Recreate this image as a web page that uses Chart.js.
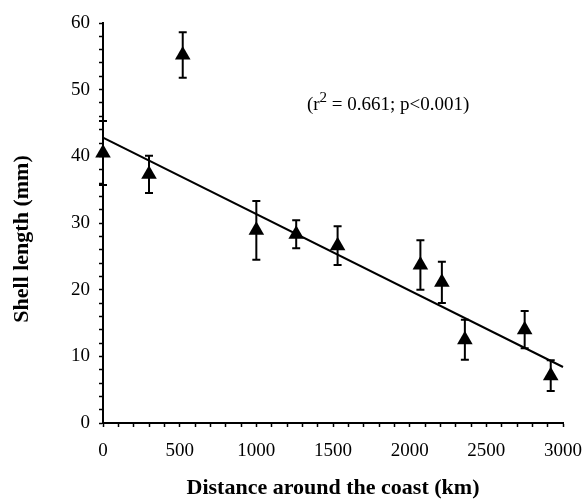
<!DOCTYPE html>
<html>
<head>
<meta charset="utf-8">
<script src="https://cdn.jsdelivr.net/npm/chart.js@4.4.1/dist/chart.umd.min.js"></script>
<style>
  html, body { margin: 0; padding: 0; background: #fff; }
</style>
</head>
<body>
<canvas id="shellChart" width="584" height="502"></canvas>
<script>
// site data (distance in km, mean shell length in mm, +/- error)
const distance = [0, 300, 520, 1000, 1260, 1530, 2070, 2210, 2360, 2750, 2920];
const shellLength = [40.5, 37.3, 55.2, 28.9, 28.3, 26.6, 23.7, 21.1, 12.5, 14.0, 7.1];
const shellErr = [4.8, 2.8, 3.4, 4.4, 2.1, 2.9, 3.7, 3.1, 3.0, 2.8, 2.3];

// fitted line end points
const fitX = [0, 3000];
const fitY = [42.8, 8.4];

const statText = ['(r', '2', ' = 0.661; p<0.001)'];
const xTitle = 'Distance around the coast (km)';
const yTitle = 'Shell length (mm)';

const serif = "'Liberation Serif', 'Times New Roman', serif";

// vertical error bars with caps, drawn through the scales
const errorBars = {
  id: 'errorBars',
  beforeDatasetsDraw(chart) {
    const { ctx, scales: { x, y } } = chart;
    ctx.save();
    ctx.strokeStyle = '#000';
    ctx.lineWidth = 2;
    distance.forEach((d, i) => {
      const px = x.getPixelForValue(d);
      const top = y.getPixelForValue(shellLength[i] + shellErr[i]);
      const bot = y.getPixelForValue(shellLength[i] - shellErr[i]);
      ctx.beginPath();
      ctx.moveTo(px, top); ctx.lineTo(px, bot);
      ctx.moveTo(px - 4, top); ctx.lineTo(px + 4, top);
      ctx.moveTo(px - 4, bot); ctx.lineTo(px + 4, bot);
      ctx.stroke();
    });
    ctx.restore();
  },
  afterDraw(chart) {
    const { ctx, scales: { x, y } } = chart;
    ctx.save();
    ctx.fillStyle = '#000';
    // r^2 note
    let tx = x.getPixelForValue(1330);
    const ty = y.getPixelForValue(46.95);
    ctx.textBaseline = 'alphabetic';
    ctx.font = '19px ' + serif;
    ctx.fillText(statText[0], tx, ty);
    tx += ctx.measureText(statText[0]).width;
    ctx.font = '15px ' + serif;
    ctx.fillText(statText[1], tx, ty - 8);
    tx += ctx.measureText(statText[1]).width;
    ctx.font = '19px ' + serif;
    ctx.fillText(statText[2], tx, ty);
    // y axis title
    ctx.translate(22, 239);
    ctx.rotate(-Math.PI / 2);
    ctx.font = 'bold 22px ' + serif;
    ctx.textAlign = 'center';
    ctx.textBaseline = 'middle';
    ctx.fillText(yTitle, 0, 0);
    ctx.restore();
  }
};

new Chart(document.getElementById('shellChart'), {
  data: {
    datasets: [
      {
        type: 'scatter',
        data: distance.map((d, i) => ({ x: d, y: shellLength[i] })),
        pointStyle: 'triangle',
        pointRadius: 9,
        pointHoverRadius: 9,
        backgroundColor: '#000',
        borderColor: '#000',
        borderWidth: 0,
        clip: false,
      },
      {
        type: 'line',
        data: fitX.map((d, i) => ({ x: d, y: fitY[i] })),
        borderColor: '#000',
        borderWidth: 2,
        pointRadius: 0,
        fill: false,
        clip: false,
      },
    ],
  },
  plugins: [errorBars],
  options: {
    responsive: false,
    animation: false,
    events: [],
    layout: { padding: { top: 23, right: 21, left: 0, bottom: 0 } },
    plugins: {
      legend: { display: false },
      tooltip: { enabled: false },
    },
    scales: {
      x: {
        type: 'linear',
        min: 0,
        max: 3000,
        afterFit: (s) => { s.height = 79; s.paddingRight = 0; s.paddingLeft = 0; },
        border: { color: '#000', width: 2 },
        grid: { drawOnChartArea: false, color: '#000', tickLength: 4, tickWidth: 1.5 },
        ticks: {
          stepSize: 100,
          autoSkip: false,
          maxRotation: 0,
          padding: 13,
          color: '#000',
          font: { family: serif, size: 19 },
          callback: (v) => (v % 500 === 0 ? v : ''),
        },
        title: {
          display: true,
          text: xTitle,
          color: '#000',
          font: { family: serif, size: 22, weight: 'bold', lineHeight: 1.2 },
          padding: { top: 0, bottom: 0 },
        },
      },
      y: {
        type: 'linear',
        min: 0,
        max: 60,
        afterFit: (s) => { s.width = 103; },
        border: { color: '#000', width: 2 },
        grid: { drawOnChartArea: false, color: '#000', tickLength: 4, tickWidth: 1.5 },
        ticks: {
          stepSize: 2,
          autoSkip: false,
          padding: 9,
          color: '#000',
          font: { family: serif, size: 19 },
          callback: (v) => (v % 10 === 0 ? v : ''),
        },
      },
    },
  },
});
</script>
</body>
</html>
